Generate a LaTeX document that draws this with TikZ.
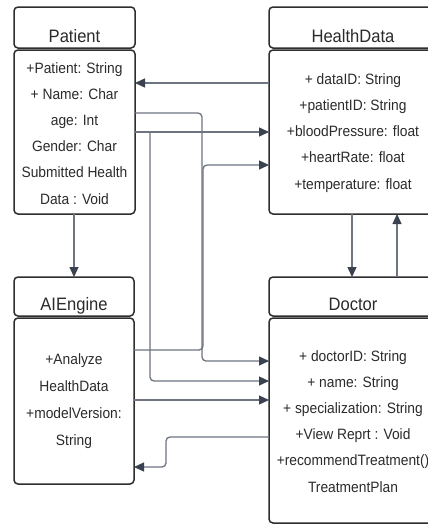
\documentclass[tikz,border=0pt]{standalone}
\usepackage{fontspec}
\setmainfont{Liberation Sans}[FakeStretch=0.92]
\usetikzlibrary{arrows.meta}
\definecolor{boxc}{HTML}{2E2E2E}
\definecolor{txtc}{HTML}{2B2B2B}
\definecolor{linec}{HTML}{6E7480}
\definecolor{tipc}{HTML}{3A4250}
\tikzset{
  umlbox/.style={draw=boxc, line width=1.5pt, rounded corners=4pt, inner sep=0pt, outer sep=0pt, anchor=north west},
  head/.style={text=txtc, font=\fontsize{18}{22}\selectfont, anchor=base, inner sep=0pt},
  body/.style={text=txtc, font=\fontsize{15}{26.2}\selectfont, align=center, anchor=base, inner sep=0pt},
  conn/.style={draw=linec, line width=1.3pt, rounded corners=4pt, -{Triangle[length=10pt,width=9pt,color=tipc]}},
}
\begin{document}
\begin{tikzpicture}[x=1pt,y=-1pt]
\useasboundingbox (0,0) rectangle (428,525);
\clip (0,0) rectangle (428,525);
\fill[white] (0,0) rectangle (428,525);

% Patient
\node[umlbox, minimum width=121pt, minimum height=41pt] (path) at (14,7) {};
\node[umlbox, minimum width=121pt, minimum height=164pt] (patb) at (14,50) {};
\node[head] (patt) at (74.5,42) {Patient};
\node[body] (patx) at (74.5,204) {+Patient: String\\+ Name: Char\\age: Int\\Gender: Char\\Submitted Health\\Data : Void};

% HealthData
\node[umlbox, minimum width=168pt, minimum height=41pt] (hdh) at (269,7) {};
\node[umlbox, minimum width=168pt, minimum height=164pt] (hdb) at (269,50) {};
\node[head] (hdt) at (353,42) {HealthData};
\node[body] (hdx) at (353,189) {+ dataID: String\\+patientID: String\\+bloodPressure: float\\+heartRate: float\\+temperature: float};

% AIEngine
\node[umlbox, minimum width=120pt, minimum height=39pt] (aih) at (14,277) {};
\node[umlbox, minimum width=120pt, minimum height=166pt] (aib) at (14,318) {};
\node[head] (ait) at (74,310) {AIEngine};
\node[body, font=\fontsize{15}{26.7}\selectfont] (aix) at (74,445) {+Analyze\\HealthData\\+modelVersion:\\String};

% Doctor
\node[umlbox, minimum width=168pt, minimum height=39pt] (doch) at (269,277) {};
\node[umlbox, minimum width=168pt, minimum height=205pt] (docb) at (269,318) {};
\node[head] (doct) at (353,310) {Doctor};
\node[body] (docx) at (353,492) {+ doctorID: String\\+ name: String\\+ specialization: String\\+View Reprt : Void\\+recommendTreatment()\\TreatmentPlan};

% connectors
\draw[conn] (hdb.west |- 0,83) -- (patb.east |- 0,83);
\draw[conn] (patb.east |- 0,113) -- (202,113) -- (202,361) -- (docb.west |- 0,361);
\draw[conn] (patb.east |- 0,132) -- (hdb.west |- 0,132);
\draw[conn] (150,132) -- (150,381) -- (docb.west |- 0,381);
\draw[conn] (aib.east |- 0,350) -- (203,350) -- (203,165) -- (hdb.west |- 0,165);
\draw[conn] (aib.east |- 0,400) -- (docb.west |- 0,400);
\draw[conn] (docb.west |- 0,437) -- (166,437) -- (166,467) -- (aib.east |- 0,467);
\draw[conn] (patb.south -| 74,0) -- (aih.north -| 74,0);
\draw[conn] (hdb.south -| 352,0) -- (doch.north -| 352,0);
\draw[conn] (doch.north -| 397,0) -- (hdb.south -| 397,0);
\end{tikzpicture}
\end{document}
